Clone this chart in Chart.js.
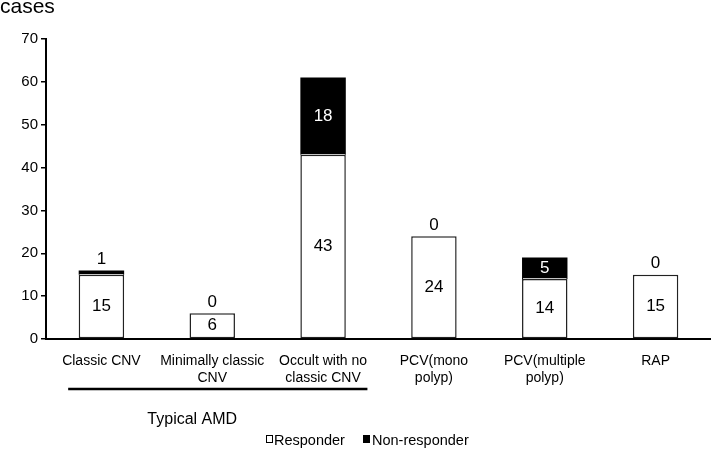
<!DOCTYPE html>
<html>
<head>
<meta charset="utf-8">
<script src="https://cdn.jsdelivr.net/npm/chart.js@4/dist/chart.umd.min.js"></script>
<style>
  html, body { margin: 0; padding: 0; background: #fff; }
  #wrap { width: 711px; height: 451px; position: relative; }
</style>
</head>
<body>
<div id="wrap"><canvas id="c" width="711" height="451"></canvas></div>
<script>
const categories = [
  ["Classic CNV"],
  ["Minimally classic", "CNV"],
  ["Occult with no", "classic CNV"],
  ["PCV(mono", "polyp)"],
  ["PCV(multiple", "polyp)"],
  ["RAP"]
];
const responder = [15, 6, 43, 24, 14, 15];
const nonResponder = [1, 0, 18, 0, 5, 0];
const yTicks = [0, 10, 20, 30, 40, 50, 60, 70];
const yAxisTitle = "cases";
const groupLabel = "Typical AMD";
const legendLabels = ["Responder", "Non-responder"];

const FONT = "'Liberation Sans', Arial, sans-serif";

const overlay = {
  id: 'overlay',
  afterDatasetsDraw(chart) {
    const ctx = chart.ctx;
    const m0 = chart.getDatasetMeta(0);
    const m1 = chart.getDatasetMeta(1);
    ctx.save();
    // thin light junction line between stacked segments
    ctx.strokeStyle = '#c4c4c4';
    ctx.lineWidth = 1;
    for (let i = 0; i < responder.length; i++) {
      if (nonResponder[i] > 0) {
        const b0 = m0.data[i];
        const hw = b0.width / 2 - 1;
        ctx.beginPath();
        ctx.moveTo(b0.x - hw, Math.round(b0.y) - 0.5);
        ctx.lineTo(b0.x + hw, Math.round(b0.y) - 0.5);
        ctx.stroke();
      }
    }
    ctx.textAlign = 'center';
    ctx.textBaseline = 'middle';
    ctx.font = "17px " + FONT;
    for (let i = 0; i < responder.length; i++) {
      const b0 = m0.data[i];
      const b1 = m1.data[i];
      ctx.fillStyle = '#000';
      ctx.fillText(String(responder[i]), b0.x, (b0.y + b0.base) / 2);
      if (nonResponder[i] >= 5) {
        ctx.fillStyle = '#fff';
        ctx.fillText(String(nonResponder[i]), b1.x, (b1.y + b1.base) / 2);
      } else {
        ctx.fillStyle = '#000';
        ctx.fillText(String(nonResponder[i]), b1.x, Math.min(b1.y, b0.y) - 11);
      }
    }
    ctx.restore();
  },
  afterDraw(chart) {
    const ctx = chart.ctx;
    const x = chart.scales.x;
    ctx.save();
    ctx.fillStyle = '#000';
    ctx.font = "21px " + FONT;
    ctx.textAlign = 'left';
    ctx.textBaseline = 'alphabetic';
    ctx.fillText(yAxisTitle, 0, 13);
    const step = x.getPixelForValue(1) - x.getPixelForValue(0);
    const lx0 = x.getPixelForValue(0) - step * 0.3;
    const lx1 = x.getPixelForValue(2) + step * 0.4;
    ctx.strokeStyle = '#000';
    ctx.lineWidth = 2.5;
    ctx.beginPath();
    ctx.moveTo(lx0, 389);
    ctx.lineTo(lx1, 389);
    ctx.stroke();
    ctx.textBaseline = 'middle';
    ctx.font = "16px " + FONT;
    ctx.textAlign = 'center';
    ctx.fillText(groupLabel, x.getPixelForValue(1) - 20, 420);
    ctx.font = "14.5px " + FONT;
    ctx.textAlign = 'left';
    ctx.lineWidth = 1;
    ctx.fillStyle = '#fff';
    ctx.strokeStyle = '#000';
    ctx.fillRect(266.5, 435.5, 6, 7);
    ctx.strokeRect(266.5, 435.5, 6, 7);
    ctx.fillStyle = '#000';
    ctx.fillText(legendLabels[0], 274, 441);
    ctx.fillRect(363, 435, 7, 8);
    ctx.fillText(legendLabels[1], 372, 441);
    ctx.restore();
  }
};

new Chart(document.getElementById('c'), {
  type: 'bar',
  data: {
    labels: categories,
    datasets: [
      {
        label: legendLabels[0],
        data: responder,
        backgroundColor: '#ffffff',
        borderColor: '#222',
        borderWidth: 1.5,
        borderSkipped: false,
        barPercentage: 0.41,
        categoryPercentage: 1
      },
      {
        label: legendLabels[1],
        data: nonResponder,
        backgroundColor: '#000000',
        borderWidth: 0,
        barPercentage: 0.41,
        categoryPercentage: 1
      }
    ]
  },
  options: {
    responsive: false,
    animation: false,
    events: [],
    layout: { padding: { top: 39, left: 0, right: 0, bottom: 0 } },
    plugins: { legend: { display: false }, tooltip: { enabled: false } },
    scales: {
      x: {
        stacked: true,
        grid: { display: false },
        border: { display: true, color: '#000', width: 2 },
        ticks: { color: '#000', font: { family: FONT, size: 14 }, padding: 6, maxRotation: 0, autoSkip: false },
        afterFit(s) { s.height = 112; }
      },
      y: {
        stacked: true,
        min: 0,
        max: 70,
        afterBuildTicks(s) { s.ticks = yTicks.map(v => ({ value: v })); },
        grid: { drawOnChartArea: false, drawTicks: true, tickLength: 5, color: '#000', lineWidth: 1.5 },
        border: { display: true, color: '#000', width: 2 },
        ticks: { color: '#000', font: { family: FONT, size: 15 }, padding: 3 },
        afterFit(s) { s.width = 46; }
      }
    }
  },
  plugins: [overlay]
});
</script>
</body>
</html>
